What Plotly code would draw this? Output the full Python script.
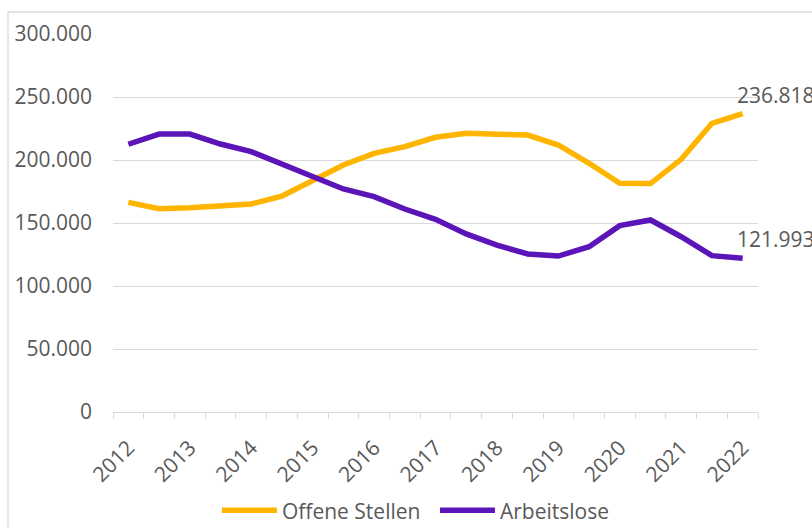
import plotly.graph_objects as go

years = ["2012", "2013", "2014", "2015", "2016", "2017", "2018", "2019", "2020", "2021", "2022"]
# semi-annual observations: 21 points from 2012 to 2022
offene_stellen = [166400, 161300, 162100, 164000, 165100, 171400, 184100, 196000, 205300, 210600,
                  218000, 221200, 220500, 219800, 211900, 197400, 181500, 181300, 200500, 229100, 236818]
arbeitslose = [212500, 220600, 220600, 212700, 206600, 196600, 186800, 177000, 170900, 161100,
               152900, 141300, 132500, 125400, 123800, 131200, 147900, 152400, 139100, 124100, 121993]
y_ticks = [0, 50000, 100000, 150000, 200000, 250000, 300000]

x_idx = list(range(len(offene_stellen)))
year_pos = x_idx[::2]

TXT = "#595959"
GRID = "#D9D9D9"
FONT = "Open Sans"
FS = 21
YEL = "#FFB400"
PUR = "#5A14B8"

fig = go.Figure()
fig.add_trace(go.Scatter(x=x_idx, y=offene_stellen, mode="lines", name="Offene Stellen",
                         line=dict(color=YEL, width=5.5)))
fig.add_trace(go.Scatter(x=x_idx, y=arbeitslose, mode="lines", name="Arbeitslose",
                         line=dict(color=PUR, width=5.5)))

def fmt(v):
    return f"{v:,}".replace(",", ".")

for series in (offene_stellen, arbeitslose):
    fig.add_annotation(x=x_idx[-1], y=series[-1], xref="x", yref="y", text=fmt(series[-1]),
                       showarrow=False, xanchor="left", yanchor="middle", xshift=-8, yshift=19,
                       font=dict(family=FONT, size=FS, color=TXT))

# chart-area border (extends beyond visible crop on right/bottom)
fig.add_shape(type="rect", xref="paper", yref="paper", x0=-0.1628, x1=1.3, y0=-0.6, y1=1.0582,
              line=dict(color=GRID, width=1.3), fillcolor="rgba(0,0,0,0)", layer="below")

fig.update_layout(
    width=812, height=528,
    margin=dict(l=113, r=54, t=34, b=116, autoexpand=False),
    paper_bgcolor="white", plot_bgcolor="white",
    separators=",.",
    font=dict(family=FONT, size=FS, color=TXT),
    showlegend=True,
    legend=dict(orientation="h", x=0.1612, xanchor="left", y=-0.261, yanchor="middle",
                font=dict(family=FONT, size=FS, color=TXT), itemwidth=55,
                entrywidth=148, bgcolor="rgba(0,0,0,0)"),
    xaxis=dict(range=[-0.5, len(x_idx) - 0.5], tickmode="array", tickvals=year_pos, ticktext=years,
               tickangle=-45, ticks="", showgrid=False, zeroline=False, automargin=False,
               showline=True, linecolor=GRID, linewidth=1.3, ticklabelstandoff=14,
               tickfont=dict(family=FONT, size=FS, color=TXT),
               minor=dict(tick0=-0.5, dtick=1, ticks="outside", ticklen=6, tickcolor=GRID, tickwidth=1.3,
                          showgrid=False)),
    yaxis=dict(range=[0, 300000], tickmode="array", tickvals=y_ticks, tickformat=",d",
               showgrid=True, gridcolor=GRID, gridwidth=1.3, zeroline=False, showline=False,
               ticks="", ticklabelstandoff=20, automargin=False,
               tickfont=dict(family=FONT, size=FS, color=TXT)),
)

fig.write_html("out.html", config={"displayModeBar": False},
               post_script="document.body.style.margin='0';document.body.style.overflow='hidden';")
